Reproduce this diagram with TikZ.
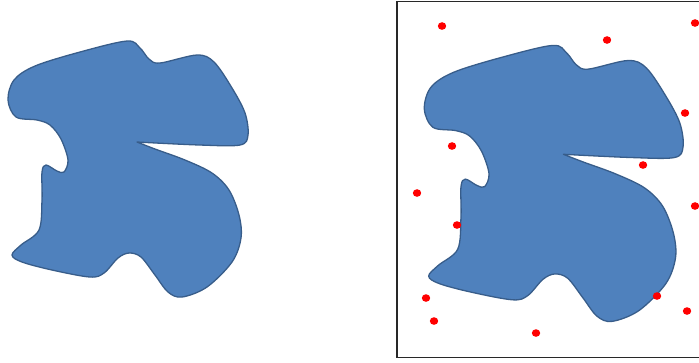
\documentclass[tikz,border=0pt]{standalone}
\usepackage{tikz}
\usetikzlibrary{calc}
\usepackage{xcolor}
\definecolor{blobfill}{RGB}{79,129,189}
\definecolor{blobedge}{RGB}{56,93,138}
\definecolor{dotred}{RGB}{255,0,0}
\definecolor{framegray}{RGB}{40,40,40}

\begin{document}
\begin{tikzpicture}[x=0.1mm, y=-0.1mm]
\useasboundingbox (0,0) rectangle (699,362);
\clip (0,0) rectangle (699,362);
% the same region twice: plain, and inside the sampling window
\foreach \sx/\sy/\sc in {0/0/1, 415.7/1.2/1.078} {
  \begin{scope}[shift={(\sx,\sy)}, scale=\sc]
    \filldraw[fill=blobfill, draw=blobedge, line width=0.13mm, line join=round]
      plot[smooth, tension=0.55] coordinates {
        (137,142) (155,149) (185,160) (212,173) (229,190) (239,215)
        (241,238) (232,262) (207,287) (182,297) (168,292) (155,275)
        (141,257) (129,253) (118,258) (104,273) (90,277) (52,270)
        (22,262) (12,255) (21,245) (39,230) (42,200) (42,172)
        (46,165) (57,171) (64,172) (68,160) (61,139) (50,125)
        (37,120) (16,117) (8,100) (14,80) (35,66) (80,52)
        (127,41) (140,48) (149,59) (160,63) (197,55) (214,62)
        (232,88) (245,113) (248,135) (240,145) (200,145) (137,142)
      } -- cycle;
  \end{scope}
}
% sampling window
\draw[framegray, line width=0.18mm] (397,1.5) rectangle (710,357.5);
% random samples
\foreach \x/\y in {442/26, 607/40, 695/23, 685/113, 452/146, 643/165,
  417/193, 695/206, 457/225, 426/298, 657/296, 687/311, 434/321, 536/333}
  \fill[dotred] (\x,\y) circle[x radius=0.42mm, y radius=0.38mm];
\end{tikzpicture}
\end{document}
